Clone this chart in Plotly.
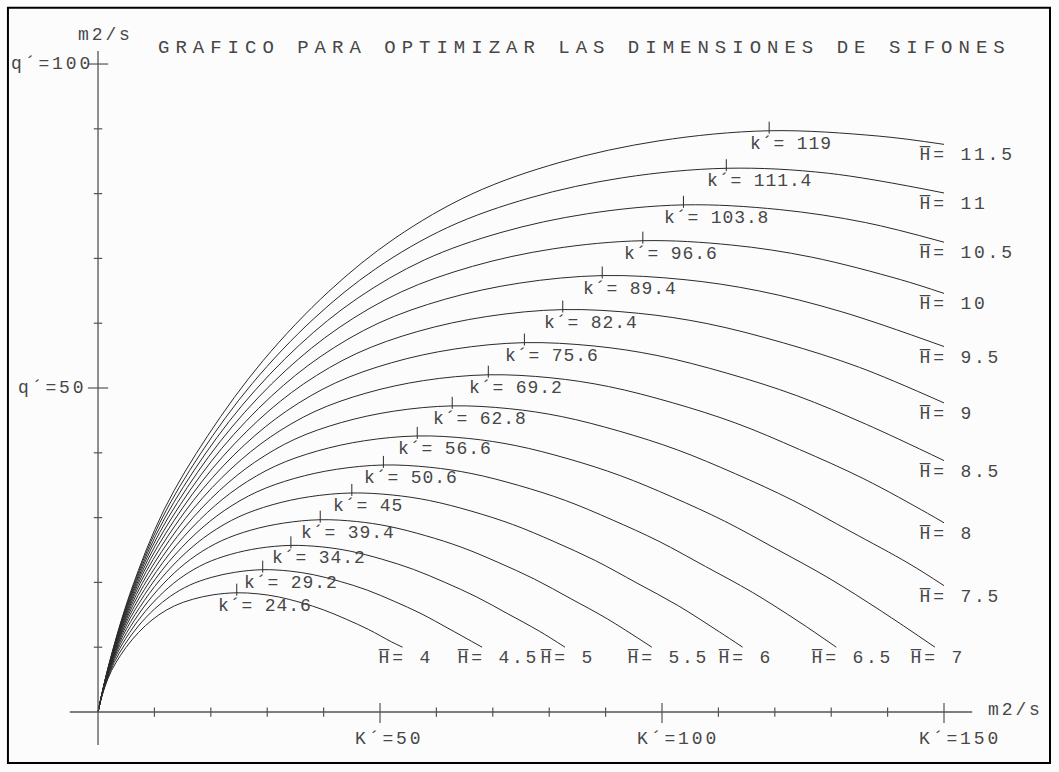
import plotly.graph_objects as go

# ---------------- data ----------------
H_labels = ["4", "4.5", "5", "5.5", "6", "6.5", "7", "7.5", "8", "8.5",
            "9", "9.5", "10", "10.5", "11", "11.5"]
k_peak = [24.6, 29.2, 34.2, 39.4, 45, 50.6, 56.6, 62.8, 69.2, 75.6,
          82.4, 89.4, 96.6, 103.8, 111.4, 119]
k_peak_labels = ["24.6", "29.2", "34.2", "39.4", "45", "50.6", "56.6", "62.8",
                 "69.2", "75.6", "82.4", "89.4", "96.6", "103.8", "111.4", "119"]
q_peak = [18.4, 21.96, 25.71, 29.67, 33.8, 38.12, 42.6, 47.24, 52.04, 57.0,
          62.1, 67.35, 72.73, 78.26, 83.91, 89.7]

K_4 = [0, 0.4, 1.2, 2.4, 4.0, 6.0, 8.4, 10.8, 13.6, 16.8, 20.4, 24.6, 28.4, 32.0, 36.0, 40.0, 44.0, 48.0, 52.0, 54.0]
q_4 = [0, 1.52, 3.84, 6.4, 8.76, 11.12, 13.32, 15.0, 16.4, 17.4, 18.08, 18.4, 18.23, 17.76, 16.88, 15.76, 14.32, 12.72, 10.84, 10.0]
K_45 = [0, 0.477, 1.432, 2.864, 4.773, 7.16, 10.02, 12.89, 16.23, 20.05, 24.34, 29.2, 33.89, 38.18, 42.96, 47.73, 52.5, 57.28, 62.05, 68.1]
q_45 = [0, 1.814, 4.582, 7.637, 10.45, 13.27, 15.89, 17.9, 19.57, 20.76, 21.57, 21.96, 21.76, 21.19, 20.14, 18.81, 17.09, 15.18, 12.93, 10.0]
K_5 = [0, 0.559, 1.677, 3.354, 5.59, 8.385, 11.74, 15.09, 19.01, 23.48, 28.51, 34.2, 39.69, 44.72, 50.31, 55.9, 61.49, 67.08, 72.67, 78.26, 82.8]
q_5 = [0, 2.124, 5.366, 8.944, 12.24, 15.54, 18.61, 20.96, 22.92, 24.32, 25.27, 25.71, 25.48, 24.82, 23.59, 22.02, 20.01, 17.78, 15.15, 12.47, 10.0]
K_55 = [0, 0.645, 1.935, 3.87, 6.45, 9.674, 13.54, 17.41, 21.93, 27.09, 32.89, 39.4, 45.79, 51.6, 58.05, 64.5, 70.94, 77.39, 83.84, 90.29, 98.2]
q_55 = [0, 2.451, 6.192, 10.32, 14.12, 17.93, 21.48, 24.19, 26.44, 28.06, 29.15, 29.67, 29.4, 28.64, 27.22, 25.41, 23.09, 20.51, 17.48, 14.38, 10.0]
K_6 = [0, 0.735, 2.205, 4.409, 7.349, 11.02, 15.43, 19.84, 24.98, 30.86, 37.48, 45.0, 52.17, 58.79, 66.14, 73.49, 80.83, 88.18, 95.53, 102.9, 110.2, 114.3]
q_6 = [0, 2.792, 7.055, 11.76, 16.09, 20.43, 24.47, 27.56, 30.13, 31.97, 33.22, 33.8, 33.49, 32.63, 31.01, 28.95, 26.31, 23.37, 19.91, 16.39, 12.35, 10.0]
K_65 = [0, 0.829, 2.486, 4.972, 8.286, 12.43, 17.4, 22.37, 28.17, 34.8, 42.26, 50.6, 58.83, 66.29, 74.57, 82.86, 91.15, 99.43, 107.7, 116.0, 124.3, 130.9]
q_65 = [0, 3.149, 7.955, 13.26, 18.15, 23.04, 27.59, 31.07, 33.97, 36.04, 37.45, 38.12, 37.77, 36.79, 34.97, 32.65, 29.66, 26.35, 22.46, 18.48, 13.92, 10.0]
K_7 = [0, 0.926, 2.778, 5.556, 9.26, 13.89, 19.45, 25.0, 31.48, 38.89, 47.23, 56.6, 65.75, 74.08, 83.34, 92.6, 101.9, 111.1, 120.4, 129.6, 138.9, 148.4]
q_7 = [0, 3.519, 8.89, 14.82, 20.28, 25.74, 30.84, 34.73, 37.97, 40.28, 41.86, 42.6, 42.21, 41.11, 39.08, 36.48, 33.15, 29.45, 25.09, 20.65, 15.56, 10.0]
K_75 = [0, 1.027, 3.081, 6.162, 10.27, 15.41, 21.57, 27.73, 34.92, 43.13, 52.38, 62.8, 72.92, 82.16, 92.43, 102.7, 113.0, 123.2, 133.5, 143.8, 150]
q_75 = [0, 3.903, 9.859, 16.43, 22.49, 28.55, 34.2, 38.51, 42.11, 44.67, 46.42, 47.24, 46.81, 45.6, 43.34, 40.46, 36.77, 32.66, 27.83, 22.9, 19.5]
K_8 = [0, 1.131, 3.394, 6.788, 11.31, 16.97, 23.76, 30.55, 38.47, 47.52, 57.7, 69.2, 80.33, 90.51, 101.8, 113.1, 124.4, 135.8, 147.1, 150]
q_8 = [0, 4.299, 10.86, 18.1, 24.78, 31.45, 37.67, 42.43, 46.39, 49.21, 51.14, 52.04, 51.57, 50.23, 47.74, 44.58, 40.5, 35.98, 30.66, 29.2]
K_85 = [0, 1.239, 3.717, 7.435, 12.39, 18.59, 26.02, 33.46, 42.13, 52.04, 63.19, 75.6, 87.98, 99.13, 111.5, 123.9, 136.3, 150]
q_85 = [0, 4.709, 11.9, 19.83, 27.14, 34.45, 41.26, 46.47, 50.8, 53.9, 56.01, 57.0, 56.48, 55.02, 52.29, 48.82, 44.36, 38.8]
K_9 = [0, 1.35, 4.05, 8.1, 13.5, 20.25, 28.35, 36.45, 45.9, 56.7, 68.85, 82.4, 95.85, 108.0, 121.5, 135.0, 150]
q_9 = [0, 5.13, 12.96, 21.6, 29.57, 37.53, 44.96, 50.63, 55.35, 58.73, 61.02, 62.1, 61.53, 59.94, 56.97, 53.19, 47.7]
K_95 = [0, 1.464, 4.392, 8.784, 14.64, 21.96, 30.75, 39.53, 49.78, 61.49, 74.67, 89.4, 103.9, 117.1, 131.8, 150]
q_95 = [0, 5.563, 14.05, 23.42, 32.06, 40.7, 48.75, 54.9, 60.03, 63.69, 66.18, 67.35, 66.73, 65.0, 61.78, 56.4]
K_10 = [0, 1.581, 4.743, 9.487, 15.81, 23.72, 33.2, 42.69, 53.76, 66.41, 80.64, 96.6, 112.3, 126.5, 142.3, 150]
q_10 = [0, 6.008, 15.18, 25.3, 34.63, 43.96, 52.65, 59.29, 64.83, 68.78, 71.47, 72.73, 72.07, 70.2, 66.72, 64.6]
K_105 = [0, 1.701, 5.104, 10.21, 17.01, 25.52, 35.73, 45.93, 57.84, 71.45, 86.76, 103.8, 120.8, 136.1, 150]
q_105 = [0, 6.465, 16.33, 27.22, 37.26, 47.29, 56.65, 63.8, 69.75, 74.0, 76.89, 78.26, 77.54, 75.53, 72.5]
K_11 = [0, 1.824, 5.472, 10.94, 18.24, 27.36, 38.31, 49.25, 62.02, 76.61, 93.03, 111.4, 129.5, 150]
q_11 = [0, 6.932, 17.51, 29.19, 39.95, 50.71, 60.74, 68.41, 74.79, 79.35, 82.45, 83.91, 83.14, 80.1]
K_115 = [0, 1.95, 5.85, 11.7, 19.5, 29.25, 40.95, 52.65, 66.3, 81.9, 99.45, 119.0, 138.4, 150]
q_115 = [0, 7.41, 18.72, 31.2, 42.7, 54.21, 64.93, 73.12, 79.95, 84.82, 88.14, 89.7, 88.88, 87.6]

curves = [(K_4, q_4), (K_45, q_45), (K_5, q_5), (K_55, q_55), (K_6, q_6),
          (K_65, q_65), (K_7, q_7), (K_75, q_75), (K_8, q_8), (K_85, q_85),
          (K_9, q_9), (K_95, q_95), (K_10, q_10), (K_105, q_105),
          (K_11, q_11), (K_115, q_115)]

x_minor = [10, 20, 30, 40, 60, 70, 80, 90, 110, 120, 130, 140]
x_major = [50, 100, 150]
x_major_labels = ["K´=50", "K´=100", "K´=150"]
y_minor = [10, 20, 30, 40, 60, 70, 80, 90]
y_major = [50, 100]
y_major_labels = ["q´=50", "q´=100"]
title_text = "GRAFICO PARA OPTIMIZAR LAS DIMENSIONES DE SIFONES"
unit_text = "m2/s"

# ---------------- styling ----------------
LINE = "#2a2a2a"
AXIS = "#555555"
TXT = "#474747"
FONT = "Liberation Mono"


def spaced(t, sp):
    return '<span style="letter-spacing:%spx">%s</span>' % (sp, t)


fig = go.Figure()
for K, q in curves:
    fig.add_trace(go.Scatter(x=K, y=q, mode="lines",
                             line=dict(color=LINE, width=1, shape="spline", smoothing=1.0),
                             hoverinfo="skip"))

shapes = []
# axes
shapes.append(dict(type="line", xref="x", yref="y", x0=-5, x1=155, y0=0, y1=0,
                   line=dict(color=AXIS, width=1.3)))
shapes.append(dict(type="line", xref="x", yref="y", x0=0, x1=0, y0=-5.1, y1=102,
                   line=dict(color=AXIS, width=1.3)))
for xv in x_minor:
    shapes.append(dict(type="line", xref="x", yref="y", x0=xv, x1=xv, y0=-0.75, y1=0.7,
                       line=dict(color=AXIS, width=1.2)))
for xv in x_major:
    shapes.append(dict(type="line", xref="x", yref="y", x0=xv, x1=xv, y0=-1.7, y1=1.4,
                       line=dict(color=AXIS, width=1.2)))
for yv in y_minor:
    shapes.append(dict(type="line", xref="x", yref="y", x0=-0.75, x1=0.75, y0=yv, y1=yv,
                       line=dict(color=AXIS, width=1.2)))
for yv in y_major:
    shapes.append(dict(type="line", xref="x", yref="y", x0=-1.8, x1=1.8, y0=yv, y1=yv,
                       line=dict(color=AXIS, width=1.2)))
# peak ticks
for kp, qp in zip(k_peak, q_peak):
    shapes.append(dict(type="line", xref="x", yref="y", x0=kp, x1=kp, y0=qp - 0.45, y1=qp + 1.4,
                       line=dict(color=LINE, width=1)))
# frame
shapes.append(dict(type="rect", xref="paper", yref="paper", x0=0.0075, x1=0.9915,
                   y0=0.0115, y1=0.99, line=dict(color="#000000", width=2)))

ann = []
lab_font = dict(family=FONT, size=18, color=TXT)
for kp, qp, lab in zip(k_peak, q_peak, k_peak_labels):
    ann.append(dict(x=kp, y=qp, xref="x", yref="y", text=spaced("k´= " + lab, 0.9),
                    showarrow=False, xanchor="left", yanchor="middle",
                    xshift=-21, yshift=-13, font=lab_font))
for (K, q), lab in zip(curves, H_labels):
    ann.append(dict(x=K[-1], y=q[-1], xref="x", yref="y", text=spaced("H\u0305= " + lab, 2.8),
                    showarrow=False, xanchor="left", yanchor="middle",
                    xshift=-27, yshift=-11, font=lab_font))
for xv, lab in zip(x_major, x_major_labels):
    ann.append(dict(x=xv, y=0, xref="x", yref="y", text=spaced(lab, 2.9), showarrow=False,
                    xanchor="left", yanchor="middle", xshift=-27, yshift=-27, font=lab_font))
y_label_shift = [-9, -3]
for yv, lab, sh in zip(y_major, y_major_labels, y_label_shift):
    ann.append(dict(x=0, y=yv, xref="x", yref="y", text=spaced(lab, 2.9), showarrow=False,
                    xanchor="right", yanchor="middle", xshift=sh, yshift=0, font=lab_font))
ann.append(dict(x=0, y=102, xref="x", yref="y", text=spaced(unit_text, 2.9), showarrow=False,
                xanchor="left", yanchor="bottom", xshift=-22, yshift=4, font=lab_font))
ann.append(dict(x=155, y=0, xref="x", yref="y", text=spaced(unit_text, 2.9), showarrow=False,
                xanchor="left", yanchor="middle", xshift=14, yshift=2, font=lab_font))
ann.append(dict(x=11, y=102.5, xref="x", yref="y", text=spaced(title_text, 6.0),
                showarrow=False, xanchor="left", yanchor="middle", xshift=-4,
                font=dict(family=FONT, size=19, color=TXT)))

fig.update_layout(
    width=1059, height=772,
    margin=dict(l=0, r=0, t=0, b=0),
    paper_bgcolor="#fcfcfc", plot_bgcolor="#fcfcfc",
    showlegend=False,
    xaxis=dict(range=[-17.38, 170.39], visible=False, fixedrange=True),
    yaxis=dict(range=[-9.26, 109.88], visible=False, fixedrange=True),
    shapes=shapes, annotations=ann,
)

fig.write_html("out.html", config={"displayModeBar": False},
               post_script="document.body.style.margin='0';document.body.style.overflow='hidden';")
